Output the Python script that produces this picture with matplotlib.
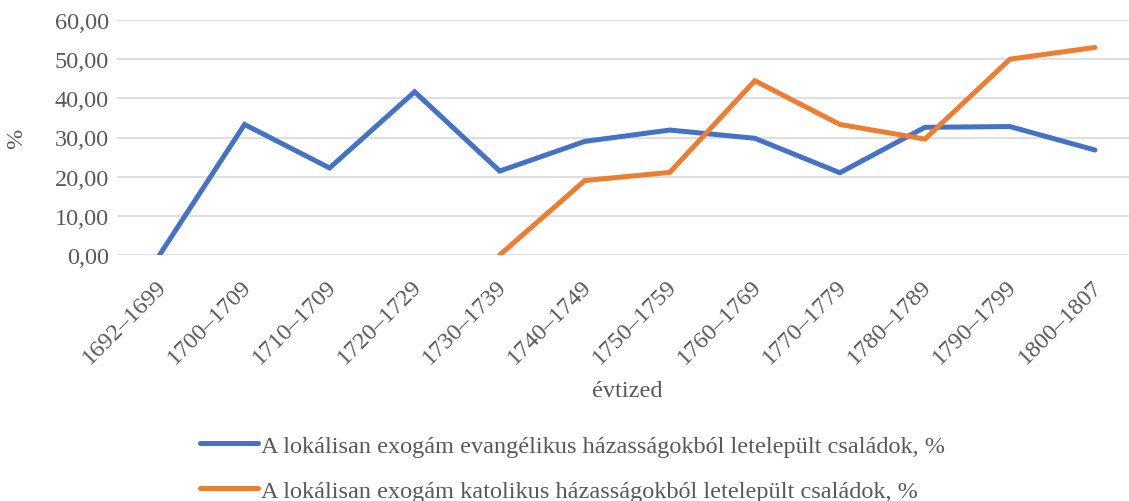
import numpy as np
import matplotlib
matplotlib.use('Agg')
import matplotlib.pyplot as plt
from matplotlib.ticker import FuncFormatter

plt.rcParams['font.family'] = ['Liberation Serif', 'DejaVu Serif']

decades = ['1692–1699', '1700–1709', '1710–1709', '1720–1729', '1730–1739', '1740–1749',
           '1750–1759', '1760–1769', '1770–1779', '1780–1789', '1790–1799', '1800–1807']
evangelical = [0.0, 33.33, 22.22, 41.67, 21.43, 29.0, 31.9, 29.8, 21.0, 32.6, 32.8, 26.8]
catholic = [np.nan, np.nan, np.nan, np.nan, 0.0, 19.0, 21.1, 44.5, 33.33, 29.6, 50.0, 53.0]

label_ev = 'A lokálisan exogám evangélikus házasságokból letelepült családok, %'
label_kat = 'A lokálisan exogám katolikus házasságokból letelepült családok, %'

BLUE = '#4472C4'
ORANGE = '#ED7D31'
TEXT = '#595959'
FS = 17.5

fig = plt.figure(figsize=(11.29, 5.02), dpi=100)
ax = fig.add_axes([117 / 1129, 1 - 256 / 502, (1137.5 - 117) / 1129, (256 - 21) / 502])

x = np.arange(len(decades))
ax.plot(x, evangelical, color=BLUE, lw=3.6, solid_capstyle='round', solid_joinstyle='miter', label=label_ev)
ax.plot(x, catholic, color=ORANGE, lw=3.6, solid_capstyle='round', solid_joinstyle='miter', label=label_kat)

ax.set_xlim(-0.5, len(decades) - 0.5)
ax.set_ylim(0, 60)
ax.set_yticks(np.arange(0, 61, 10))
ax.yaxis.set_major_formatter(FuncFormatter(lambda v, p: f'{v:.2f}'.replace('.', ',')))
ax.grid(axis='y', color='#d9d9d9', lw=1.2)
ax.set_axisbelow(True)
for s in ax.spines.values():
    s.set_visible(False)
ax.tick_params(length=0, labelsize=FS, colors=TEXT, pad=6)

ax.set_xticks(x)
ax.set_xticklabels(decades, rotation=45, ha='right', va='top', rotation_mode='anchor')
for t in ax.get_xticklabels():
    t.set_transform(t.get_transform() + matplotlib.transforms.ScaledTranslation(-0.04, -0.12, fig.dpi_scale_trans))

ax.set_ylabel('%', fontsize=FS, color=TEXT, labelpad=20)
ax.set_xlabel('évtized', fontsize=FS, color=TEXT, labelpad=9)

leg = fig.legend(loc='upper left', bbox_to_anchor=(178 / 1129, 1 - 414 / 502), frameon=False,
                 fontsize=FS, handlelength=2.4, handletextpad=0.1, labelspacing=0.95)
for t in leg.get_texts():
    t.set_color(TEXT)

fig.savefig('out.png', dpi=100)
